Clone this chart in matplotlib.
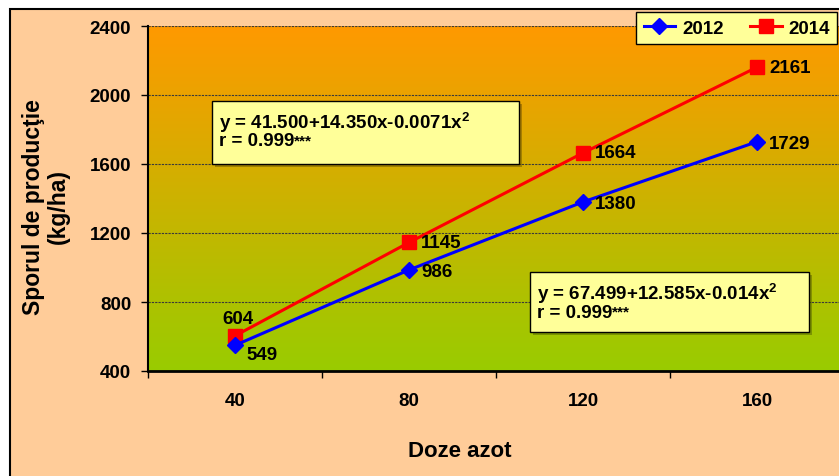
import matplotlib
matplotlib.use('Agg')
import matplotlib.pyplot as plt
from matplotlib.patches import Rectangle
from matplotlib.colors import LinearSegmentedColormap
import numpy as np

doses = ['40', '80', '120', '160']
y2012 = [549, 986, 1380, 1729]
y2014 = [604, 1145, 1664, 2161]
eq2014 = 'y = 41.500+14.350x-0.0071x$^{2}$'
eq2012 = 'y = 67.499+12.585x-0.014x$^{2}$'
r_txt = 'r = 0.999'
signif = '***'
yticks = [400, 800, 1200, 1600, 2000, 2400]

plt.rcParams['font.family'] = ['Liberation Sans', 'DejaVu Sans']
plt.rcParams['font.weight'] = 'bold'
plt.rcParams['mathtext.fontset'] = 'custom'
plt.rcParams['mathtext.rm'] = 'Liberation Sans:bold'
plt.rcParams['mathtext.it'] = 'Liberation Sans:bold'
plt.rcParams['mathtext.bf'] = 'Liberation Sans:bold'
plt.rcParams['mathtext.default'] = 'bf'

W, H = 839, 477
fig = plt.figure(figsize=(W / 100, H / 100), dpi=100, facecolor='white')


def px(x, y):
    # pixel position (from top-left) -> figure fraction
    return x / W, 1 - y / H


# chart area frame
fig.patches.append(Rectangle(px(10, 490), 900 / W, 480 / H, transform=fig.transFigure,
                             facecolor='#FFCC99', edgecolor='black', lw=1.5, zorder=-1))

ax = fig.add_axes([148 / W, 1 - 372 / H, 696 / W, 345 / H])
ax.set_facecolor('none')
x = np.arange(len(doses))

cmap = LinearSegmentedColormap.from_list('bg', ['#99CC00', '#FF9900'])
grad = np.linspace(0, 1, 256).reshape(-1, 1)
ax.imshow(grad, cmap=cmap, aspect='auto', origin='lower',
          extent=(-0.5, 3.5, 400, 2400), zorder=0)

ax.set_xlim(-0.5, 3.5)
ax.set_ylim(400, 2400)
for v in yticks[1:]:
    ax.axhline(v, color='#3a3a3a', lw=0.8, ls=(0, (2, 1)), zorder=1)

ax.plot(x, y2014, color='#FF0000', lw=2.2, marker='s', ms=9.5, zorder=3, label='2014')
ax.plot(x, y2012, color='#0000FF', lw=2.2, marker='D', ms=8.5, zorder=4, label='2012')

lab = dict(fontsize=13.5, fontweight='bold', textcoords='offset pixels', zorder=5)
for i, v in enumerate(y2014):
    if i == 0:
        ax.annotate(str(v), (x[i], v), xytext=(3, 17), ha='center', va='center', **lab)
    else:
        ax.annotate(str(v), (x[i], v), xytext=(12, 0), ha='left', va='center', **lab)
for i, v in enumerate(y2012):
    if i == 0:
        ax.annotate(str(v), (x[i], v), xytext=(11, -9), ha='left', va='center', **lab)
    else:
        ax.annotate(str(v), (x[i], v), xytext=(12, -2), ha='left', va='center', **lab)

ax.set_yticks(yticks)
ax.set_yticklabels([str(t) for t in yticks], fontsize=13.5, fontweight='bold')
ax.set_xticks(x)
ax.set_xticklabels(doses, fontsize=13.5, fontweight='bold')
ax.set_xticks(np.arange(-0.5, 3.6, 1), minor=True)
ax.tick_params(axis='x', which='major', length=0, pad=15)
ax.tick_params(axis='x', which='minor', length=5, width=1, direction='out')
ax.tick_params(axis='y', length=5, width=1, direction='out', pad=7)
for s in ['top', 'right']:
    ax.spines[s].set_visible(False)
ax.spines['left'].set_linewidth(1.5)
ax.spines['bottom'].set_linewidth(2)

fig.text(*px(460, 452), 'Doze azot', ha='center', va='center', fontsize=16, fontweight='bold')
fig.text(*px(46, 207), 'Sporul de producţie\n(kg/ha)', rotation=90, ha='center', va='center',
         multialignment='center', fontsize=16.5, fontweight='bold', linespacing=1.1)

# equation boxes
r_texts = []
for (l, t, r, b), txt in [((212, 102, 519, 165), eq2014), ((530, 273, 809, 333), eq2012)]:
    fig.patches.append(Rectangle(px(l + 3, b + 3), (r - l) / W, (b - t) / H,
                                 transform=fig.transFigure, facecolor='black', alpha=0.25,
                                 edgecolor='none', zorder=6))
    fig.patches.append(Rectangle(px(l, b), (r - l) / W, (b - t) / H, transform=fig.transFigure,
                                 facecolor='#FFFF99', edgecolor='black', lw=1, zorder=7))
    fig.text(*px(l + 7, t + 21), txt, ha='left', va='center', fontsize=13.5,
             fontweight='bold', zorder=8)
    r_texts.append(fig.text(*px(l + 7, t + 40), r_txt, ha='left', va='center', fontsize=13.5,
                            fontweight='bold', zorder=8))

fig.canvas.draw()
for rt in r_texts:
    bb = rt.get_window_extent()
    fig.text(bb.x1 / W, (bb.y1 - 1) / H, signif, ha='left', va='top', fontsize=11,
             fontweight='bold', zorder=8)

h, lb = ax.get_legend_handles_labels()
leg = fig.legend(h[::-1], lb[::-1], loc='upper left', bbox_to_anchor=px(636, 13), ncol=2,
                 fontsize=13.5, frameon=True, fancybox=False, framealpha=1,
                 handlelength=1.7, handletextpad=0.35, columnspacing=1.4,
                 borderpad=0.4, borderaxespad=0)
leg.get_frame().set_facecolor('#FFFF99')
leg.get_frame().set_edgecolor('black')
leg.get_frame().set_linewidth(1)
for t in leg.get_texts():
    t.set_fontweight('bold')

fig.savefig('out.png', dpi=100)
